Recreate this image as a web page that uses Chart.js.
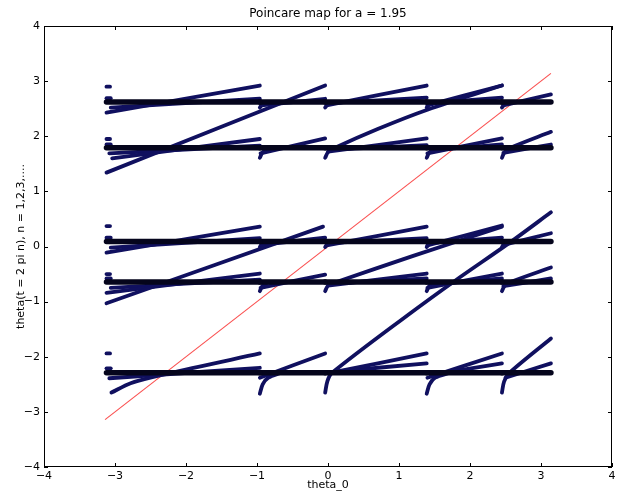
<!DOCTYPE html>
<html>
<head>
<meta charset="utf-8">
<script src="https://cdn.jsdelivr.net/npm/chart.js@4.4.0/dist/chart.umd.min.js"></script>
<style>
  html, body { margin: 0; padding: 0; background: #fff; }
  #wrap { width: 625px; height: 493px; }
</style>
</head>
<body>
<div id="wrap"><canvas id="poincare" width="625" height="493"></canvas></div>
<script>
// axis ticks (both axes run -4..4)
const tickValues = [-4, -3, -2, -1, 0, 1, 2, 3, 4];

// theta_0 positions where the map jumps
const segmentEdges = [-3.12, -0.96, -0.04, 1.39, 2.45, 3.14];

// levels of the attracting orbit
const bandLevels = [2.62, 1.79, 0.09, -0.645, -2.29];

// theta_0 = theta reference line
const identityLine = [[-3.14, -3.14], [3.14, 3.14]];

// early iterates that cross several bands
const steepCurves = [
  [[-3.12, 1.34], [-0.04, 2.92]],
  [[-3.12, -1.03], [-0.07, 0.36]],
  [[-0.04, 1.61], [0.0, 1.71], [0.1, 1.79], [0.7, 2.13], [1.4, 2.48], [2.45, 2.92]],
  [[-0.04, -0.81], [0.0, -0.71], [0.12, -0.645], [1.2, -0.17], [2.45, 0.36]],
  [[-0.04, -2.65], [-0.01, -2.45], [0.05, -2.3], [1.15, -1.22], [1.79, -0.62], [2.56, 0.07], [3.14, 0.62]],
  [[2.45, 1.61], [2.49, 1.72], [2.57, 1.79], [3.14, 2.08]],
  [[2.45, -0.81], [2.49, -0.71], [2.57, -0.645], [3.14, -0.38]],
  [[2.45, -2.65], [2.48, -2.45], [2.55, -2.3], [3.14, -1.67]]
];

// later iterates creeping into each band
const branchLines = [
  [[-3.12, 2.43], [-0.96, 2.92]],
  [[-3.06, 2.52], [-0.96, 2.68]],
  [[-3.04, 1.6], [-0.96, 1.95]],
  [[-3.08, 1.69], [-0.96, 1.83]],
  [[-3.12, -0.11], [-0.96, 0.36]],
  [[-3.06, -0.02], [-0.96, 0.15]],
  [[-3.12, -0.84], [-0.96, -0.49]],
  [[-3.06, -0.75], [-0.96, -0.6]],
  [[-3.05, -2.65], [-2.78, -2.48], [-2.27, -2.31], [-0.96, -1.94]],
  [[-3.08, -2.39], [-0.96, -2.2]],

  [[-0.94, 2.56], [-0.04, 2.68]],
  [[-0.95, 1.69], [-0.04, 1.96]],
  [[-0.94, 0.03], [-0.04, 0.16]],
  [[-0.95, -0.75], [-0.04, -0.51]],
  [[-0.96, -2.38], [-0.04, -1.94]],

  [[-0.02, 2.56], [1.39, 2.92]],
  [[0.0, 2.6], [1.39, 2.7]],
  [[0.0, 1.72], [1.39, 1.96]],
  [[0.05, 1.76], [1.39, 1.84]],
  [[-0.02, 0.02], [1.39, 0.36]],
  [[0.0, 0.06], [1.39, 0.15]],
  [[0.0, -0.71], [1.39, -0.49]],
  [[0.05, -0.67], [1.39, -0.58]],
  [[0.05, -2.29], [1.39, -1.94]],
  [[0.1, -2.27], [1.39, -2.12]],

  [[1.4, 2.56], [2.45, 2.92]],
  [[1.42, 2.6], [2.45, 2.7]],
  [[1.4, 1.69], [2.45, 1.96]],
  [[1.45, 1.75], [2.45, 1.85]],
  [[1.4, 0.02], [2.45, 0.38]],
  [[1.42, 0.06], [2.45, 0.16]],
  [[1.4, -0.75], [2.45, -0.49]],
  [[1.45, -0.69], [2.45, -0.58]],
  [[1.4, -2.38], [2.45, -1.94]],
  [[1.45, -2.33], [2.45, -2.12]],

  [[2.47, 2.56], [3.14, 2.76]],
  [[2.47, 1.7], [3.14, 1.85]],
  [[2.47, 0.03], [3.14, 0.24]],
  [[2.47, -0.72], [3.14, -0.58]],
  [[2.5, -2.38], [3.14, -2.12]]
];

// short drops just after each jump
const hookCurves = [
  [[-0.96, 2.52], [-0.92, 2.58], [-0.84, 2.62]],
  [[-0.96, 1.61], [-0.92, 1.71], [-0.83, 1.79]],
  [[-0.96, -0.01], [-0.92, 0.05], [-0.84, 0.09]],
  [[-0.96, -0.81], [-0.92, -0.71], [-0.83, -0.645]],
  [[-0.96, -2.67], [-0.92, -2.5], [-0.84, -2.38], [-0.66, -2.29]],

  [[-0.04, 2.52], [0.0, 2.58], [0.08, 2.62]],
  [[-0.04, -0.01], [0.0, 0.05], [0.08, 0.09]],

  [[1.39, 2.52], [1.43, 2.58], [1.51, 2.62]],
  [[1.39, 1.61], [1.43, 1.71], [1.52, 1.79]],
  [[1.39, -0.01], [1.43, 0.05], [1.51, 0.09]],
  [[1.39, -0.81], [1.43, -0.71], [1.52, -0.645]],
  [[1.39, -2.67], [1.43, -2.5], [1.51, -2.38], [1.72, -2.29]],

  [[2.45, 2.52], [2.49, 2.58], [2.57, 2.62]],
  [[2.45, -0.01], [2.49, 0.05], [2.57, 0.09]]
];

// stray points at the far left edge
const startDashes = [
  [[-3.12, 2.9], [-3.07, 2.9]],
  [[-3.12, 2.69], [-3.06, 2.69]],
  [[-3.12, 1.95], [-3.07, 1.95]],
  [[-3.12, 1.85], [-3.06, 1.85]],
  [[-3.12, 0.37], [-3.07, 0.37]],
  [[-3.12, 0.16], [-3.06, 0.16]],
  [[-3.12, -0.5], [-3.07, -0.5]],
  [[-3.12, -0.58], [-3.06, -0.58]],
  [[-3.12, -1.94], [-3.07, -1.94]],
  [[-3.12, -2.21], [-3.06, -2.21]]
];

const toPts = (line) => line.map(([x, y]) => ({ x, y }));

const curveStyle = {
  showLine: true,
  pointRadius: 0,
  borderColor: "#10105f",
  borderWidth: 3.8,
  borderCapStyle: "round",
  borderJoinStyle: "round",
  tension: 0.3,
  order: 1,
};

const datasets = [];

// flat band pieces, one per segment and level
for (let s = 0; s < segmentEdges.length - 1; s++) {
  bandLevels.forEach((lv) => {
    datasets.push({
      ...curveStyle,
      data: toPts([[segmentEdges[s], lv], [segmentEdges[s + 1], lv]]),
      borderColor: "#05051c",
      borderWidth: 5.5,
      order: 0,
    });
  });
}

[steepCurves, branchLines, hookCurves, startDashes].forEach((group) => {
  group.forEach((line) => datasets.push({ ...curveStyle, data: toPts(line) }));
});

datasets.push({
  data: toPts(identityLine),
  showLine: true,
  pointRadius: 0,
  borderColor: "rgba(250,60,60,0.9)",
  borderWidth: 1.1,
  order: 5,
});

const fmt = (v) => (v < 0 ? "\u2212" + Math.abs(v) : String(v));

// frame, inward ticks and text in the matplotlib look
const decor = {
  id: "decor",
  afterDraw(chart) {
    const { ctx, chartArea: a, scales } = chart;
    ctx.save();
    ctx.strokeStyle = "#000";
    ctx.lineWidth = 1;
    ctx.strokeRect(a.left + 0.5, a.top + 0.5, a.right - a.left - 1, a.bottom - a.top - 1);
    tickValues.forEach((v) => {
      const px = Math.round(scales.x.getPixelForValue(v)) + 0.5;
      const py = Math.round(scales.y.getPixelForValue(v)) + 0.5;
      ctx.beginPath();
      ctx.moveTo(px, a.bottom); ctx.lineTo(px, a.bottom - 4);
      ctx.moveTo(px, a.top); ctx.lineTo(px, a.top + 4);
      ctx.moveTo(a.left, py); ctx.lineTo(a.left + 4, py);
      ctx.moveTo(a.right, py); ctx.lineTo(a.right - 4, py);
      ctx.stroke();
    });
    ctx.fillStyle = "#000";
    ctx.textAlign = "center";
    ctx.textBaseline = "middle";
    ctx.font = "12px 'DejaVu Sans'";
    ctx.fillText("Poincare map for a = 1.95", (a.left + a.right) / 2, 14);
    ctx.font = "11px 'DejaVu Sans'";
    ctx.fillText("theta_0", (a.left + a.right) / 2, 485);
    ctx.translate(21, (a.top + a.bottom) / 2);
    ctx.rotate(-Math.PI / 2);
    ctx.fillText("theta(t = 2 pi n), n = 1,2,3,....", 0, 0);
    ctx.restore();
  },
};

new Chart(document.getElementById("poincare"), {
  type: "scatter",
  data: { datasets },
  options: {
    responsive: false,
    animation: false,
    layout: { padding: { left: 0, right: 13, top: 26, bottom: 0 } },
    plugins: { legend: { display: false }, tooltip: { enabled: false } },
    scales: {
      x: {
        type: "linear",
        min: -4,
        max: 4,
        afterFit: (s) => { s.height = 26; },
        afterBuildTicks: (s) => { s.ticks = tickValues.map((v) => ({ value: v })); },
        grid: { display: false, drawTicks: false },
        border: { display: false },
        ticks: { padding: 3, color: "#000", font: { family: "DejaVu Sans", size: 11 }, maxRotation: 0, callback: fmt },
      },
      y: {
        type: "linear",
        min: -4,
        max: 4,
        afterFit: (s) => { s.width = 44; },
        afterBuildTicks: (s) => { s.ticks = tickValues.map((v) => ({ value: v })); },
        grid: { display: false, drawTicks: false },
        border: { display: false },
        ticks: { padding: 4, color: "#000", font: { family: "DejaVu Sans", size: 11 }, callback: fmt },
      },
    },
  },
  plugins: [decor],
});
</script>
</body>
</html>
